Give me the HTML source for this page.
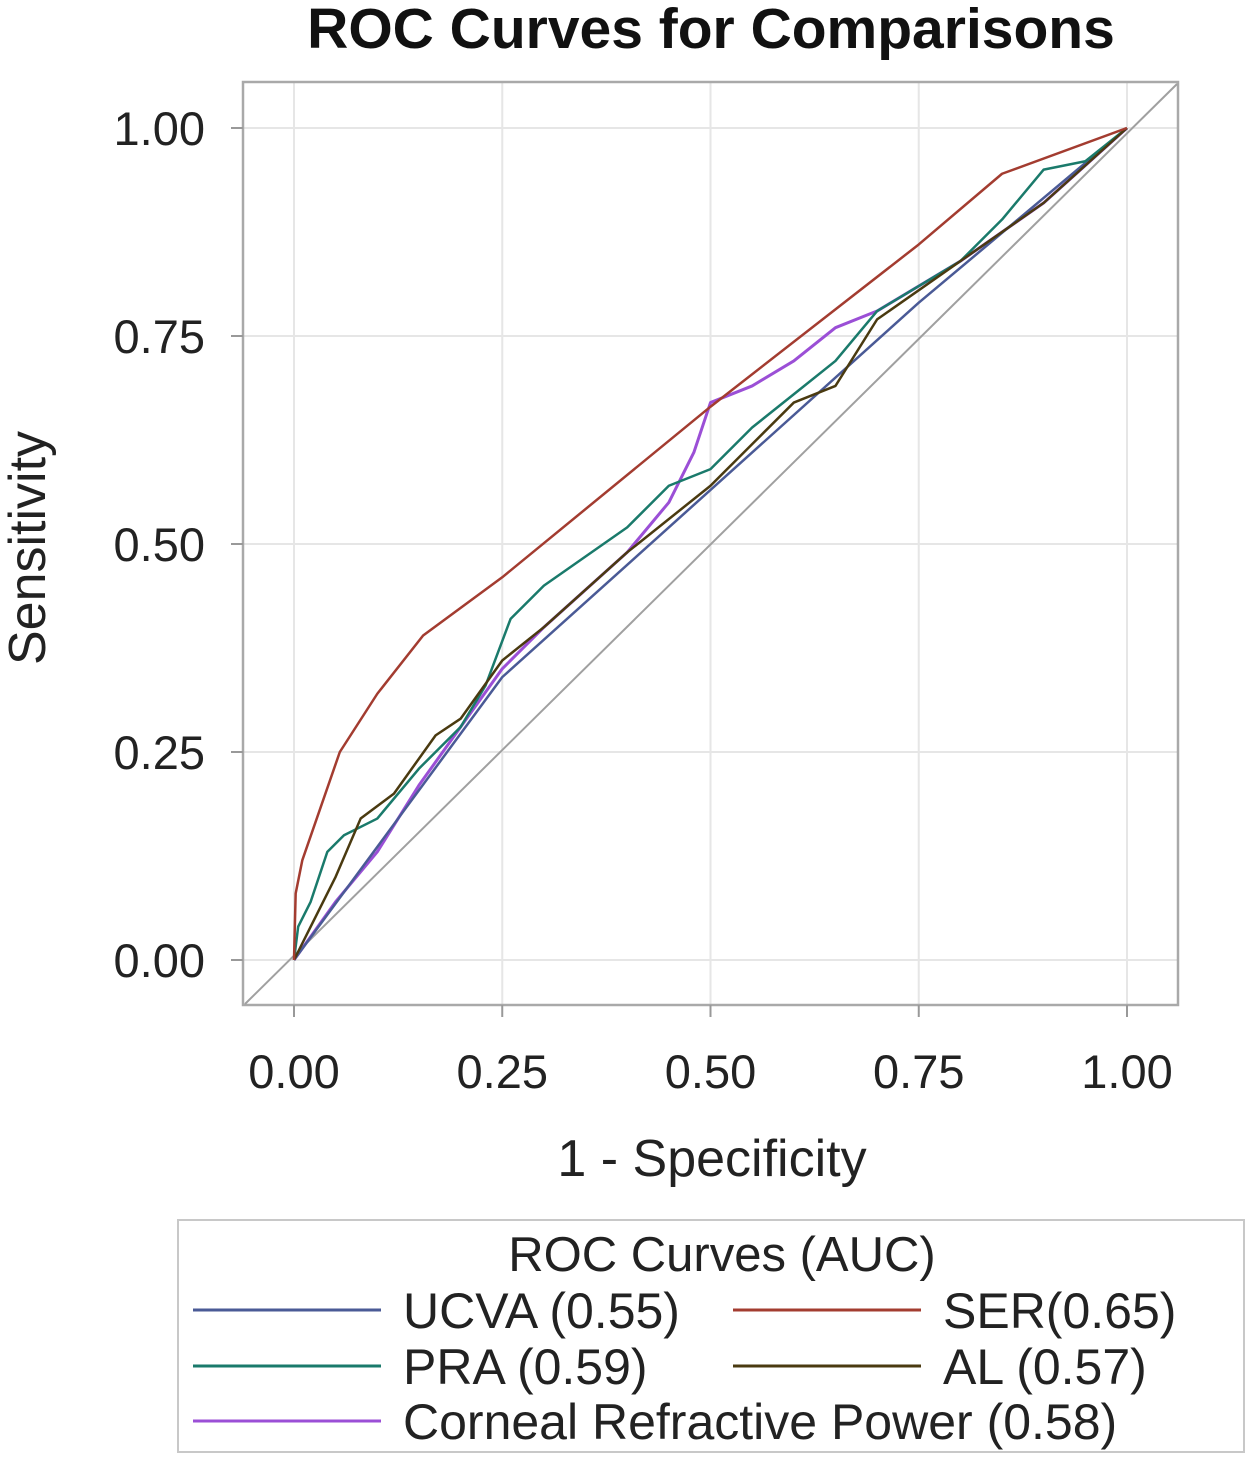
<!DOCTYPE html>
<html><head><meta charset="utf-8"><style>
body{margin:0;background:#fff;}
svg{display:block;font-family:"Liberation Sans",sans-serif;}
</style></head><body>
<svg id="chart" width="1250" height="1458">
<text x="711" y="48" text-anchor="middle" font-size="57" font-weight="bold" fill="#111">ROC Curves for Comparisons</text>
<g id="grid"></g>
<rect x="243" y="82" width="935" height="923" fill="none" stroke="#a9a9a9" stroke-width="2.5"/>
<g id="ticks"></g>
<g id="series"></g>
<text x="712" y="1176" text-anchor="middle" font-size="52" fill="#222">1 - Specificity</text>
<text transform="translate(45,548) rotate(-90)" text-anchor="middle" font-size="52" fill="#222">Sensitivity</text>
<g>
<rect x="178" y="1220" width="1066" height="232" fill="#fff" stroke="#c8c8c8" stroke-width="2"/>
<text x="722" y="1271" text-anchor="middle" font-size="49" fill="#222">ROC Curves (AUC)</text>
<g id="legend"></g>
</g>
</svg>
<script>
const ticks=[0,0.25,0.5,0.75,1];
const tickLabels=["0.00","0.25","0.50","0.75","1.00"];
const names=["UCVA (0.55)","SER(0.65)","PRA (0.59)","AL (0.57)","Corneal Refractive Power (0.58)"];
const colors=["#4a5a96","#a33c30","#1a7a6b","#4a3a10","#9b4fd6"];
const ucvaX=[0,0.25,0.5,0.75,1];
const ucvaY=[0,0.34,0.565,0.79,1];
const serX=[0,0.002,0.01,0.055,0.1,0.155,0.25,0.5,0.75,0.85,1];
const serY=[0,0.08,0.12,0.25,0.32,0.39,0.46,0.665,0.86,0.945,1];
const praX=[0,0.005,0.02,0.04,0.06,0.1,0.15,0.2,0.23,0.26,0.3,0.4,0.45,0.5,0.55,0.6,0.65,0.7,0.8,0.85,0.9,0.95,1];
const praY=[0,0.04,0.07,0.13,0.15,0.17,0.23,0.28,0.33,0.41,0.45,0.52,0.57,0.59,0.64,0.68,0.72,0.78,0.84,0.89,0.95,0.96,1];
const alX=[0,0.02,0.05,0.08,0.12,0.17,0.2,0.25,0.3,0.4,0.5,0.55,0.6,0.65,0.7,0.8,0.9,1];
const alY=[0,0.04,0.1,0.17,0.2,0.27,0.29,0.36,0.4,0.49,0.57,0.62,0.67,0.69,0.77,0.84,0.91,1];
const crpX=[0,0.05,0.1,0.15,0.2,0.25,0.3,0.4,0.45,0.48,0.5,0.55,0.6,0.65,0.7,0.8,0.9,1];
const crpY=[0,0.07,0.13,0.21,0.28,0.35,0.4,0.49,0.55,0.61,0.67,0.69,0.72,0.76,0.78,0.84,0.91,1];
const NS="http://www.w3.org/2000/svg";
const sx=v=>294+833*v, sy=v=>960-832*v;
function mk(t,a,p){const e=document.createElementNS(NS,t);for(const k in a)e.setAttribute(k,a[k]);p.appendChild(e);return e;}
const grid=document.getElementById('grid'),tk=document.getElementById('ticks'),ser=document.getElementById('series'),lg=document.getElementById('legend');
ticks.forEach((t,i)=>{
 let g=mk('line',{x1:sx(t),x2:sx(t),y1:83,y2:1004,stroke:'#e6e6e6','stroke-width':2},grid);
 
 
 g=mk('line',{x1:244,x2:1177,y1:sy(t),y2:sy(t),stroke:'#e6e6e6','stroke-width':2},grid);
 
 
 let l=mk('line',{x1:sx(t),x2:sx(t),y1:1005,y2:1017,stroke:'#999','stroke-width':2},tk);
 
 
 l=mk('line',{x1:231,x2:243,y1:sy(t),y2:sy(t),stroke:'#999','stroke-width':2},tk);
 
 
 let tx=mk('text',{x:sx(t),y:1088,'text-anchor':'middle','font-size':47,fill:'#222'},tk);tx.textContent=tickLabels[i];
 
 
 tx=mk('text',{x:205,y:sy(t)+17,'text-anchor':'end','font-size':47,fill:'#222'},tk);tx.textContent=tickLabels[i];
 
 
});
let d=mk('line',{x1:245,y1:1004,x2:1177,y2:84,stroke:'#a0a0a0','stroke-width':2},ser);


const all=[[ucvaX,ucvaY],[serX,serY],[praX,praY],[alX,alY],[crpX,crpY]];
const snames=['ucva-curve','ser-curve','pra-curve','al-curve','crp-curve'];
[4,0,2,3,1].forEach(i=>{
 const [X,Y]=all[i];
 const p=mk('polyline',{points:X.map((x,j)=>sx(x)+','+sy(Y[j])).join(' '),fill:'none',stroke:colors[i],'stroke-width':i==4?3:2.5,'stroke-linejoin':'round'},ser);
 
 
});
const lpos=[[193,1310],[733,1310],[193,1366],[733,1366],[193,1421]];
lpos.forEach((p,i)=>{
 const l=mk('line',{x1:p[0],x2:p[0]+188,y1:p[1],y2:p[1],stroke:colors[i],'stroke-width':3},lg);
 
 
 const t=mk('text',{x:p[0]+210,y:p[1]+18,'font-size':50,fill:'#222'},lg);t.textContent=names[i];
 
 
});
</script>
</body></html>
